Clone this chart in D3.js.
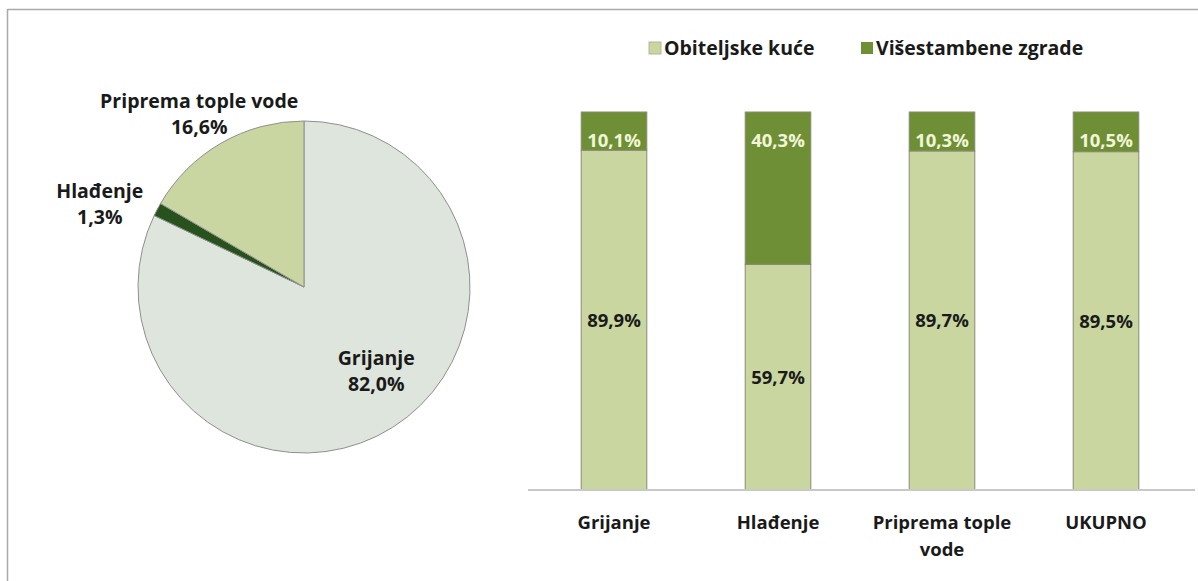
<!DOCTYPE html>
<html>
<head>
<meta charset="utf-8">
<script src="https://cdn.jsdelivr.net/npm/d3@7"></script>
<style>
  html, body { margin: 0; padding: 0; background: #ffffff; }
  svg { display: block; }
  text { font-family: "Open Sans", Lato, sans-serif; font-weight: 700; }
</style>
</head>
<body>
<svg id="chart" width="1198" height="581"></svg>
<script>
// Pie: share of energy use by purpose
const pieNames  = ["Grijanje", "Hlađenje", "Priprema tople vode"];
const pieValues = [82.0, 1.3, 16.6];
const pieColors = ["#dee5dc", "#27521d", "#cad6a1"];

// Stacked bars: split by building type
const barCategories = ["Grijanje", "Hlađenje", "Priprema tople vode", "UKUPNO"];
const familyHouses  = [89.9, 59.7, 89.7, 89.5];   // Obiteljske kuće
const apartmentBlds = [10.1, 40.3, 10.3, 10.5];   // Višestambene zgrade
const seriesNames   = ["Obiteljske kuće", "Višestambene zgrade"];
const seriesColors  = ["#c9d6a0", "#6f8f36"];

const fmt = v => d3.format(".1f")(v).replace(".", ",") + "%";

const svg = d3.select("#chart");

// Outer frame (top and left edges)
svg.append("line").attr("x1", 7.5).attr("x2", 1198).attr("y1", 9.5).attr("y2", 9.5)
  .attr("stroke", "#a9a9a9").attr("stroke-width", 1.5);
svg.append("line").attr("x1", 7.5).attr("x2", 7.5).attr("y1", 9).attr("y2", 581)
  .attr("stroke", "#a9a9a9").attr("stroke-width", 1.5);

// ---------- Pie ----------
const R = 166;
const pieG = svg.append("g").attr("transform", "translate(304,287)");
const pie = d3.pie().sort(null).value(d => d)(pieValues);
const arc = d3.arc().innerRadius(0).outerRadius(R);

pieG.selectAll("path.slice").data(pie).join("path")
  .attr("class", "slice")
  .attr("d", arc)
  .attr("fill", (d, i) => pieColors[i])
  .attr("stroke", "#8f8f8f")
  .attr("stroke-width", 1);

// label placement: distance from centre (fraction of radius) plus a small shift
const labelRadius = [0.68, 1.33, 1.23];
const labelShiftX = [12, -9, -3];
const labelShiftY = [-11, 20, 4];
pie.forEach((d, i) => {
  const a = (d.startAngle + d.endAngle) / 2;
  const r = R * labelRadius[i];
  const x = Math.sin(a) * r + labelShiftX[i];
  const y = -Math.cos(a) * r + labelShiftY[i];
  const t = pieG.append("text")
    .attr("text-anchor", "middle")
    .attr("font-size", 19.5)
    .attr("fill", "#1a1a1a");
  t.append("tspan").attr("x", x).attr("y", y - 6).text(pieNames[i]);
  t.append("tspan").attr("x", x).attr("y", y + 20).text(fmt(pieValues[i]));
});

// ---------- Stacked bars ----------
const x = d3.scaleBand().domain(barCategories).range([532, 1188]).paddingInner(0.6).paddingOuter(0.3);
const y = d3.scaleLinear().domain([0, 100]).range([490, 112]);

const stackData = barCategories.map((c, i) => ({ cat: c, a: familyHouses[i], b: apartmentBlds[i] }));
const stacked = d3.stack().keys(["a", "b"])(stackData);

const barsG = svg.append("g");
stacked.forEach((layer, k) => {
  barsG.selectAll(null).data(layer).join("rect")
    .attr("x", d => x(d.data.cat))
    .attr("width", x.bandwidth())
    .attr("y", d => y(d[1]))
    .attr("height", d => y(d[0]) - y(d[1]))
    .attr("fill", seriesColors[k])
    .attr("stroke", "#8a8a72")
    .attr("stroke-width", 1);
});

// value labels
stackData.forEach(d => {
  const cx = x(d.cat) + x.bandwidth() / 2;
  svg.append("text")
    .attr("x", cx).attr("y", (y(0) + y(d.a)) / 2 + 7)
    .attr("text-anchor", "middle").attr("font-size", 18.5)
    .attr("fill", "#1a1a1a").text(fmt(d.a));
  svg.append("text")
    .attr("x", cx).attr("y", y(100) + 35)
    .attr("text-anchor", "middle").attr("font-size", 18.5)
    .attr("fill", "#f2f6d8").text(fmt(d.b));
});

// x axis
const xAxis = svg.append("g").attr("transform", "translate(0,490)")
  .call(d3.axisBottom(x).tickSize(0).tickPadding(0));
xAxis.select(".domain").attr("d", "M528,0H1195").attr("stroke", "#c8c8c8").attr("stroke-width", 2);
xAxis.selectAll(".tick text").remove();
xAxis.selectAll(".tick").each(function (c) {
  const t = d3.select(this).append("text")
    .attr("text-anchor", "middle").attr("font-size", 18.5)
    .attr("fill", "#1a1a1a");
  const words = c === "Priprema tople vode" ? ["Priprema tople", "vode"] : [c];
  words.forEach((w, j) => t.append("tspan").attr("x", 0).attr("y", 39 + j * 27).text(w));
});

// legend
const legend = svg.append("g");
const legendX = [649, 861];
seriesNames.forEach((n, i) => {
  legend.append("rect").attr("x", legendX[i]).attr("y", 42).attr("width", 12).attr("height", 12)
    .attr("fill", seriesColors[i]).attr("stroke", i === 0 ? "#b0b89a" : "none");
  legend.append("text").attr("x", legendX[i] + 15).attr("y", 55)
    .attr("font-size", 19.5).attr("fill", "#1a1a1a").text(n);
});
</script>
</body>
</html>
